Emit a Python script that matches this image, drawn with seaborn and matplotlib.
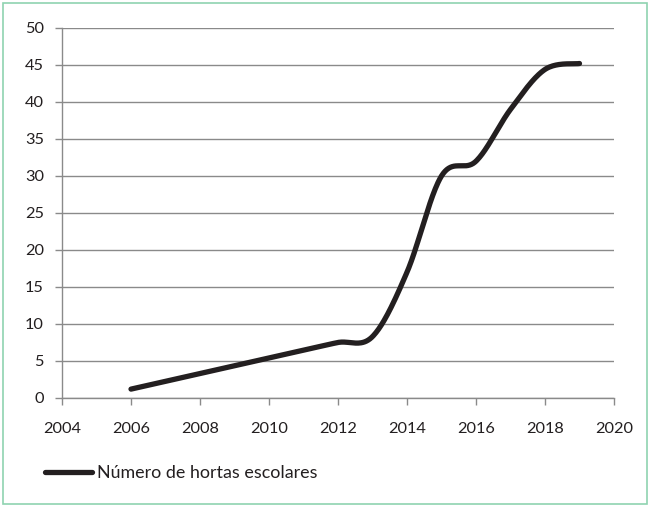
import numpy as np
import pandas as pd
import matplotlib
matplotlib.use('Agg')
import matplotlib.pyplot as plt
from matplotlib.patches import Rectangle
from matplotlib.lines import Line2D
import seaborn as sns

# Data (one value per year)
years = [2006, 2007, 2008, 2009, 2010, 2011, 2012, 2013, 2014, 2015, 2016, 2017, 2018, 2019]
hortas = [1.2, 2.25, 3.3, 4.35, 5.4, 6.45, 7.5, 8.3, 17, 30, 32, 39, 44.4, 45.2]
x_ticks = list(range(2004, 2021, 2))
y_ticks = list(range(0, 51, 5))
series_label = 'Número de hortas escolares'

# pixel scale of the plot area, used so the smoothing behaves like a spreadsheet chart
PX_PER_YEAR = 34.5
PX_PER_UNIT = 7.4


def smooth_curve(xs, ys, n=40):
    # Catmull-Rom style bezier smoothing, done in screen-like units
    px = np.array(xs, dtype=float) * PX_PER_YEAR
    py = np.array(ys, dtype=float) * PX_PER_UNIT
    pts = np.column_stack([px, py])
    out = []
    for i in range(len(pts) - 1):
        p0 = pts[i - 1] if i > 0 else pts[i]
        p1 = pts[i]
        p2 = pts[i + 1]
        p3 = pts[i + 2] if i + 2 < len(pts) else pts[i + 1]
        c1 = p1 + (p2 - p0) / 6
        c2 = p2 - (p3 - p1) / 6
        t = np.linspace(0, 1, n)[:, None]
        seg = ((1 - t) ** 3) * p1 + 3 * ((1 - t) ** 2) * t * c1 + 3 * (1 - t) * t ** 2 * c2 + t ** 3 * p2
        out.append(seg if i == 0 else seg[1:])
    out = np.vstack(out)
    return out[:, 0] / PX_PER_YEAR, out[:, 1] / PX_PER_UNIT


sx, sy = smooth_curve(years, hortas)
df = pd.DataFrame({'Ano': sx, 'Hortas': sy})

sns.set_theme(style='white')
plt.rcParams['font.family'] = ['Lato', 'DejaVu Sans']

fig = plt.figure(figsize=(6.5, 5.07), dpi=100)
ax = fig.add_axes([0.0954, 0.215, 0.8492, 0.7298])

line_color = '#231f20'
sns.lineplot(data=df, x='Ano', y='Hortas', ax=ax, color=line_color, linewidth=3.8,
             sort=False, estimator=None, solid_capstyle='round')

ax.set_xlim(2004, 2020)
ax.set_ylim(0, 50)
ax.set_xticks(x_ticks)
ax.set_yticks(y_ticks)
ax.set_xlabel('')
ax.set_ylabel('')
ax.yaxis.grid(True, color='#8a8a8a', linewidth=1)
ax.set_axisbelow(True)

for side in ['top', 'right']:
    ax.spines[side].set_visible(False)
for side in ['left', 'bottom']:
    ax.spines[side].set_color('#8a8a8a')
    ax.spines[side].set_linewidth(1)

ax.tick_params(axis='x', direction='out', length=5, width=1, color='#8a8a8a',
               labelsize=11.8, labelcolor='#231f20', pad=12, bottom=True)
ax.tick_params(axis='y', direction='out', length=5, width=1, color='#8a8a8a',
               labelsize=11.8, labelcolor='#231f20', pad=8, left=True)

handle = Line2D([0], [0], color=line_color, linewidth=3.8, solid_capstyle='round')
fig.legend([handle], [series_label], loc='center left', bbox_to_anchor=(0.045, 0.067),
           frameon=False, fontsize=12.9, handlelength=2.6, handletextpad=0.28,
           labelcolor='#231f20')

# light green frame around the whole figure
fig.patches.append(Rectangle((0.005, 0.006), 0.99, 0.988, transform=fig.transFigure,
                             fill=False, edgecolor='#8fd3b0', linewidth=1.2))

fig.savefig('out.png', dpi=100)
